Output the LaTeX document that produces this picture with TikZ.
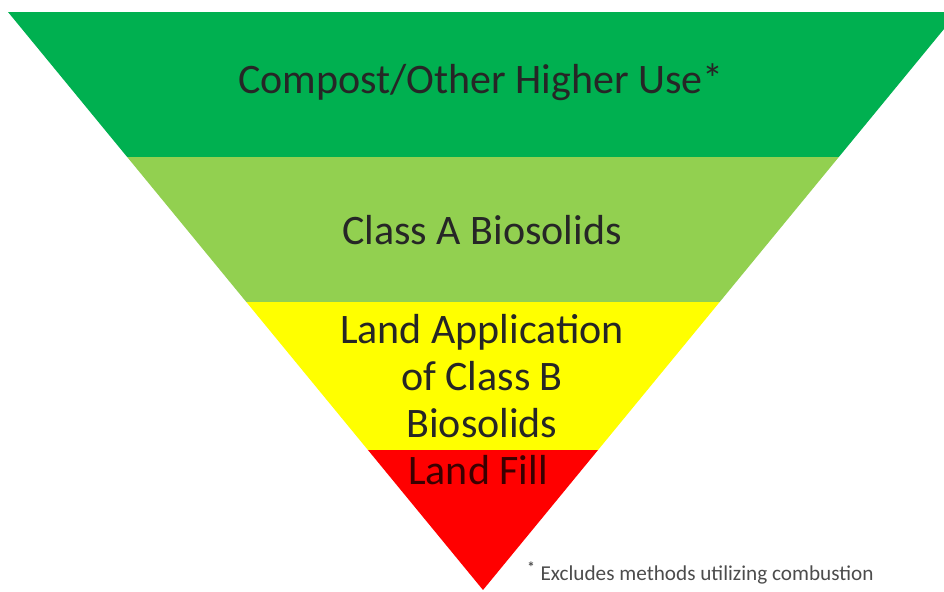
\documentclass[tikz,border=0pt]{standalone}
\usepackage{fontspec}
\setmainfont{Carlito}
\usetikzlibrary{positioning}

\definecolor{darkgreen}{HTML}{00B050}
\definecolor{lightgreen}{HTML}{92D050}
\definecolor{fillred}{HTML}{FF0000}
\definecolor{fillyellow}{HTML}{FFFF00}
\definecolor{filltext}{HTML}{3A0000}

\tikzset{
	band label/.style = {align = center, font = \fontsize{21}{23.5}\selectfont, text = black!85},
	note label/.style = {anchor = west, font = \fontsize{10.6}{12}\selectfont, text = black!70, inner sep = 0}
}

\begin{document}
\begin{tikzpicture}[x = 0.5pt, y = -0.5pt]

	\useasboundingbox (0, 0) rectangle (944, 592);

	% Inverted pyramid
	
	\begin{scope}
		\clip (0, 0) rectangle (944, 592);
		\clip (8, 12) -- (958, 12) -- (483, 590) -- cycle;
		\fill [darkgreen] (0, 12) rectangle (960, 157);
		\fill [lightgreen] (0, 157) rectangle (960, 302);
		\fill [fillyellow] (0, 302) rectangle (960, 450);
		\fill [fillred] (0, 450) rectangle (960, 592);
	\end{scope}
	
	% Labels
	
	\node [band label] (compost) at (481, 82) {Compost/Other Higher Use*};
	\node [band label] (classa) at (482, 230) {Class A Biosolids};
	\node [band label] (classb) at (482, 376) {Land Application\\of Class B\\Biosolids};
	\node [band label, text = filltext] (landfill) at (478, 470) {Land Fill};
	
	% Footnote
	
	\node [note label] (note) at (527, 573) {\textsuperscript{\textbf{*}} Excludes methods utilizing combustion};

\end{tikzpicture}
\end{document}
